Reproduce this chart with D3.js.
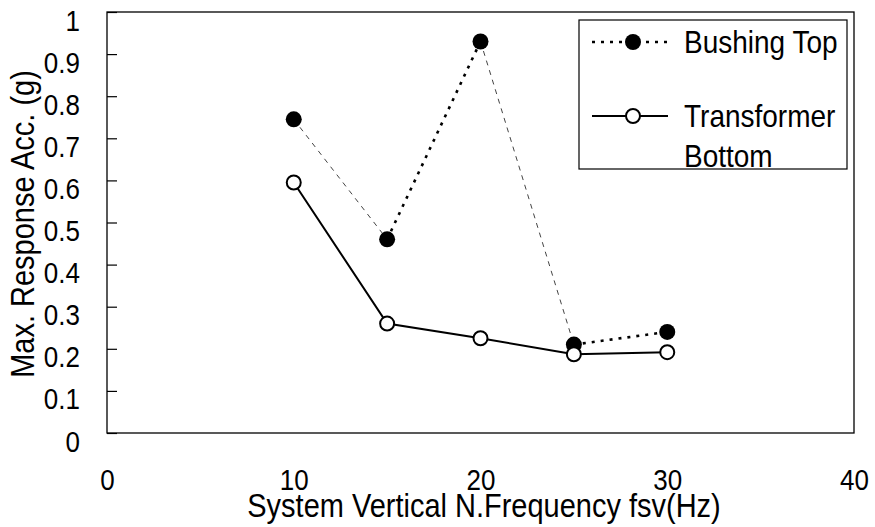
<!DOCTYPE html>
<html>
<head>
<meta charset="utf-8">
<script src="https://cdn.jsdelivr.net/npm/d3@7"></script>
<style>
  html, body { margin: 0; padding: 0; background: #fff; }
  svg { display: block; font-family: Arial, "Liberation Sans", sans-serif; }
</style>
</head>
<body>
<svg id="chart" width="875" height="527"></svg>
<script>
const frequencies = [10, 15, 20, 25, 30];
const bushingTop = [0.745, 0.46, 0.93, 0.21, 0.24];
const transformerBottom = [0.595, 0.26, 0.225, 0.187, 0.192];
const xTicks = [0, 10, 20, 30, 40];
const yTicks = [0, 0.1, 0.2, 0.3, 0.4, 0.5, 0.6, 0.7, 0.8, 0.9, 1];
const seriesNames = ["Bushing Top", "Transformer Bottom"];
const xTitle = "System Vertical N.Frequency fsv(Hz)";
const yTitle = "Max. Response Acc. (g)";

const SY = 1.12; // vertical stretch of the reference's lettering
const svg = d3.select("#chart");
const L = 107, R = 854, T = 12, B = 433;
const x = d3.scaleLinear().domain([0, 40]).range([L, R]);
const y = d3.scaleLinear().domain([0, 1]).range([B, T]);

svg.append("rect").attr("x", L).attr("y", T).attr("width", R - L).attr("height", B - T)
  .attr("fill", "none").attr("stroke", "#000").attr("stroke-width", 1.3);

// y axis ticks (inside) and labels
const yAxis = d3.axisRight(y).tickValues(yTicks).tickSize(10)
  .tickFormat(d => d === 0 || d === 1 ? String(d) : d.toFixed(1));
const gy = svg.append("g").attr("transform", `translate(${L},0)`).call(yAxis);
gy.select(".domain").remove();
gy.selectAll(".tick line").attr("stroke", "#000").attr("stroke-width", 1.2);
gy.selectAll(".tick text").attr("x", 0).attr("y", 0).attr("dy", 0)
  .attr("transform", `translate(-27,18) scale(1,${SY})`)
  .attr("text-anchor", "end").attr("font-size", 26).attr("fill", "#000")
  .attr("font-family", "Arial, 'Liberation Sans', sans-serif");

// x axis labels (no tick marks)
const xAxis = d3.axisBottom(x).tickValues(xTicks).tickSize(0).tickFormat(d3.format("d"));
const gx = svg.append("g").attr("transform", `translate(0,${B})`).call(xAxis);
gx.select(".domain").remove();
gx.selectAll(".tick text").attr("x", 0).attr("y", 0).attr("dy", 0)
  .attr("transform", `translate(0,57) scale(1,${SY})`)
  .attr("font-size", 26).attr("fill", "#000")
  .attr("font-family", "Arial, 'Liberation Sans', sans-serif");

// axis titles
svg.append("text").attr("transform", `translate(484,517) scale(1,${SY})`)
  .attr("text-anchor", "middle").attr("font-size", 29).text(xTitle);
svg.append("text").attr("transform", `translate(34,224) rotate(-90) scale(1,${SY})`)
  .attr("text-anchor", "middle").attr("font-size", 29).text(yTitle);

const line = d3.line().x(d => x(d[0])).y(d => y(d[1]));

// Bushing top: dotted line drawn segment by segment
const bPts = frequencies.map((f, i) => [f, bushingTop[i]]);
const bSegs = d3.pairs(bPts);
svg.append("g").selectAll("path").data(bSegs).join("path")
  .attr("d", d => line(d)).attr("fill", "none")
  .attr("stroke", d => d[1][1] < d[0][1] ? "#444" : "#000")
  .attr("stroke-width", d => d[1][1] < d[0][1] ? 1 : 2.6)
  .attr("stroke-dasharray", d => d[1][1] < d[0][1] ? "5,5" : "3,6");

// Transformer bottom solid line
const tPts = frequencies.map((f, i) => [f, transformerBottom[i]]);
svg.append("path").attr("d", line(tPts)).attr("fill", "none")
  .attr("stroke", "#000").attr("stroke-width", 2);

svg.append("g").selectAll("circle").data(bPts).join("circle")
  .attr("cx", d => x(d[0])).attr("cy", d => y(d[1])).attr("r", 8).attr("fill", "#000");
svg.append("g").selectAll("circle").data(tPts).join("circle")
  .attr("cx", d => x(d[0])).attr("cy", d => y(d[1])).attr("r", 7)
  .attr("fill", "#fff").attr("stroke", "#000").attr("stroke-width", 2);

// legend
const lg = svg.append("g");
lg.append("rect").attr("x", 579).attr("y", 20).attr("width", 268).attr("height", 149)
  .attr("fill", "#fff").attr("stroke", "#000").attr("stroke-width", 1.2);
lg.append("line").attr("x1", 592).attr("x2", 668).attr("y1", 42).attr("y2", 42)
  .attr("stroke", "#000").attr("stroke-width", 2.6).attr("stroke-dasharray", "3,6");
lg.append("circle").attr("cx", 633).attr("cy", 42).attr("r", 8).attr("fill", "#000");
lg.append("text").attr("transform", `translate(684,53) scale(1,${SY})`)
  .attr("font-size", 28).text(seriesNames[0]);
lg.append("line").attr("x1", 592).attr("x2", 668).attr("y1", 116).attr("y2", 116)
  .attr("stroke", "#000").attr("stroke-width", 2);
lg.append("circle").attr("cx", 633).attr("cy", 116).attr("r", 7)
  .attr("fill", "#fff").attr("stroke", "#000").attr("stroke-width", 2);
lg.append("text").attr("transform", `translate(684,127) scale(1,${SY})`)
  .attr("font-size", 28).text("Transformer");
lg.append("text").attr("transform", `translate(684,167) scale(1,${SY})`)
  .attr("font-size", 28).text("Bottom");
</script>
</body>
</html>
